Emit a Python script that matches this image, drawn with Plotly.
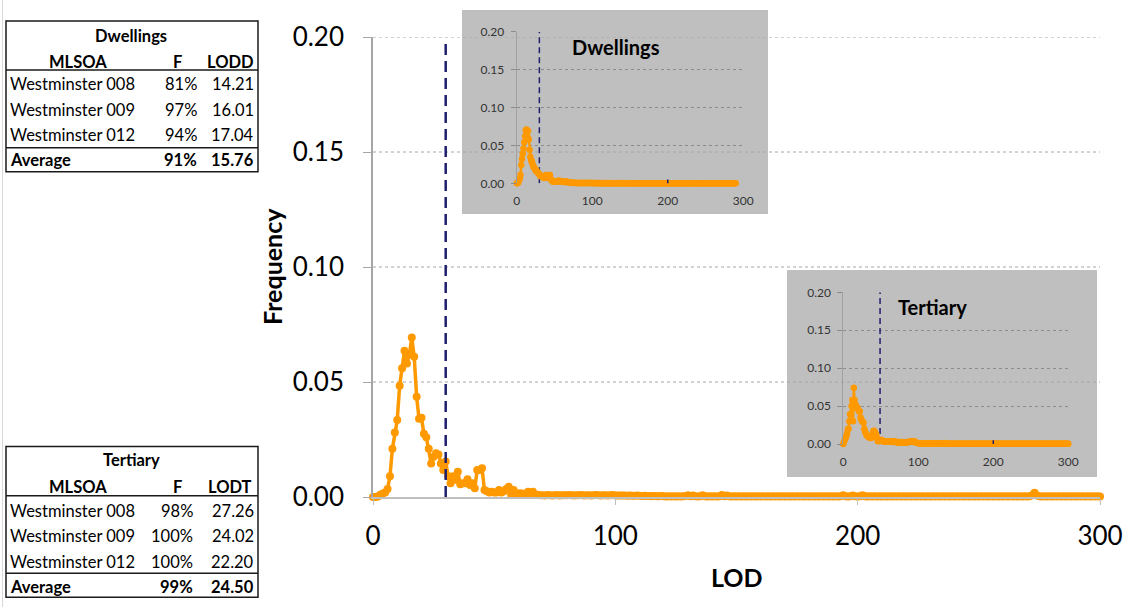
import plotly.graph_objects as go

W, H = 1134, 607
FONT = "Lato"
ORANGE = "#FF9900"
NAVY = "#1F1F6E"

# ---- frequency of LOD values (index = LOD, 0..300) ----
main_freq = [
    0.0000, 0.0000, 0.0002, 0.0010, 0.0015, 0.0020, 0.0035, 0.0090, 0.0210, 0.0280,
    0.0335, 0.0484, 0.0560, 0.0636, 0.0580, 0.0620, 0.0694, 0.0610, 0.0436, 0.0340,
    0.0345, 0.0275, 0.0260, 0.0210, 0.0146, 0.0175, 0.0190, 0.0185, 0.0146, 0.0117,
    0.0154, 0.0090, 0.0060, 0.0090, 0.0075, 0.0110, 0.0055, 0.0060, 0.0060, 0.0077,
    0.0052, 0.0060, 0.0038, 0.0117, 0.0117, 0.0125, 0.0030, 0.0025, 0.0020, 0.0023,
    0.0020, 0.0020, 0.0030, 0.0020, 0.0025, 0.0035, 0.0045, 0.0010, 0.0030, 0.0015,
    0.0015, 0.0016, 0.0010, 0.0015, 0.0023, 0.0015, 0.0023, 0.0010, 0.0010, 0.0008,
    0.0008, 0.0007, 0.0009, 0.0008, 0.0007, 0.0008, 0.0009, 0.0007, 0.0008, 0.0008,
    0.0008, 0.0009, 0.0008, 0.0007, 0.0008, 0.0008, 0.0009, 0.0007, 0.0008, 0.0008,
    0.0007, 0.0008, 0.0009, 0.0008, 0.0007, 0.0008, 0.0008, 0.0007, 0.0008, 0.0009,
    0.0007, 0.0006, 0.0007, 0.0006, 0.0006, 0.0005, 0.0006, 0.0005, 0.0005, 0.0006,
    0.0005, 0.0004, 0.0005, 0.0004, 0.0004, 0.0003, 0.0004, 0.0003, 0.0003, 0.0004,
    0.0003, 0.0002, 0.0003, 0.0002, 0.0003, 0.0002, 0.0003, 0.0002, 0.0003, 0.0004,
    0.0008, 0.0003, 0.0007, 0.0003, 0.0002, 0.0003, 0.0008, 0.0003, 0.0002, 0.0003,
    0.0002, 0.0003, 0.0002, 0.0003, 0.0009, 0.0003, 0.0007, 0.0003, 0.0002, 0.0003,
    0.0002, 0.0003, 0.0002, 0.0003, 0.0002, 0.0003, 0.0002, 0.0003, 0.0002, 0.0003,
    0.0002, 0.0003, 0.0002, 0.0003, 0.0002, 0.0003, 0.0002, 0.0003, 0.0002, 0.0003,
    0.0002, 0.0003, 0.0002, 0.0003, 0.0002, 0.0003, 0.0002, 0.0003, 0.0002, 0.0003,
    0.0002, 0.0003, 0.0002, 0.0003, 0.0002, 0.0003, 0.0002, 0.0003, 0.0002, 0.0003,
    0.0002, 0.0003, 0.0002, 0.0003, 0.0008, 0.0003, 0.0002, 0.0003, 0.0007, 0.0003,
    0.0002, 0.0003, 0.0008, 0.0003, 0.0002, 0.0003, 0.0002, 0.0003, 0.0002, 0.0003,
    0.0002, 0.0003, 0.0002, 0.0003, 0.0002, 0.0003, 0.0002, 0.0003, 0.0002, 0.0003,
    0.0002, 0.0003, 0.0002, 0.0003, 0.0002, 0.0003, 0.0002, 0.0003, 0.0002, 0.0003,
    0.0002, 0.0003, 0.0002, 0.0003, 0.0002, 0.0003, 0.0002, 0.0003, 0.0002, 0.0003,
    0.0002, 0.0003, 0.0002, 0.0003, 0.0002, 0.0003, 0.0002, 0.0003, 0.0002, 0.0003,
    0.0002, 0.0003, 0.0002, 0.0003, 0.0002, 0.0003, 0.0002, 0.0003, 0.0002, 0.0003,
    0.0002, 0.0003, 0.0002, 0.0003, 0.0002, 0.0003, 0.0002, 0.0003, 0.0002, 0.0003,
    0.0002, 0.0003, 0.0008, 0.0018, 0.0006, 0.0003, 0.0002, 0.0003, 0.0002, 0.0003,
    0.0002, 0.0003, 0.0002, 0.0003, 0.0002, 0.0003, 0.0002, 0.0003, 0.0002, 0.0003,
    0.0002, 0.0003, 0.0002, 0.0003, 0.0002, 0.0003, 0.0002, 0.0003, 0.0002, 0.0003,
    0.0002,
]

dwell_freq = [
    0.0000, 0.0000, 0.0010, 0.0044, 0.0060, 0.0110, 0.0240, 0.0320, 0.0390, 0.0460,
    0.0540, 0.0620, 0.0700, 0.0710, 0.0620, 0.0690, 0.0580, 0.0440, 0.0350, 0.0300,
    0.0290, 0.0250, 0.0220, 0.0210, 0.0190, 0.0170, 0.0176, 0.0150, 0.0140, 0.0130,
    0.0120, 0.0100, 0.0090, 0.0095, 0.0088, 0.0088, 0.0070, 0.0090, 0.0100, 0.0110,
    0.0080, 0.0070, 0.0090, 0.0110, 0.0110, 0.0060, 0.0040, 0.0030, 0.0020, 0.0020,
    0.0020, 0.0025, 0.0020, 0.0030, 0.0025, 0.0030, 0.0035, 0.0035, 0.0025, 0.0020,
    0.0020, 0.0025, 0.0020, 0.0015, 0.0020, 0.0025, 0.0020, 0.0020, 0.0015, 0.0010,
    0.0008, 0.0007, 0.0008, 0.0006, 0.0007, 0.0006, 0.0005, 0.0006, 0.0005, 0.0005,
    0.0005, 0.0004, 0.0005, 0.0004, 0.0005, 0.0004, 0.0004, 0.0005, 0.0004, 0.0004,
    0.0004, 0.0003, 0.0004, 0.0003, 0.0004, 0.0003, 0.0003, 0.0004, 0.0003, 0.0003,
    0.0003, 0.0003, 0.0002, 0.0003, 0.0003, 0.0002, 0.0003, 0.0002, 0.0003, 0.0002,
    0.0002, 0.0003, 0.0002, 0.0002, 0.0003, 0.0002, 0.0002, 0.0003, 0.0002, 0.0002,
    0.0002, 0.0002, 0.0003, 0.0002, 0.0002, 0.0002, 0.0003, 0.0002, 0.0002, 0.0002,
    0.0002, 0.0002, 0.0002, 0.0003, 0.0002, 0.0002, 0.0002, 0.0002, 0.0003, 0.0002,
    0.0002, 0.0002, 0.0002, 0.0002, 0.0002, 0.0003, 0.0002, 0.0002, 0.0002, 0.0002,
    0.0002, 0.0002, 0.0002, 0.0002, 0.0002, 0.0002, 0.0002, 0.0002, 0.0002, 0.0002,
    0.0002, 0.0002, 0.0002, 0.0002, 0.0002, 0.0002, 0.0002, 0.0002, 0.0002, 0.0002,
    0.0002, 0.0002, 0.0002, 0.0002, 0.0002, 0.0002, 0.0002, 0.0002, 0.0002, 0.0002,
    0.0002, 0.0002, 0.0002, 0.0002, 0.0002, 0.0002, 0.0002, 0.0002, 0.0002, 0.0002,
    0.0002, 0.0002, 0.0002, 0.0002, 0.0002, 0.0002, 0.0002, 0.0002, 0.0002, 0.0002,
    0.0002, 0.0002, 0.0002, 0.0002, 0.0002, 0.0002, 0.0002, 0.0002, 0.0002, 0.0002,
    0.0002, 0.0002, 0.0002, 0.0002, 0.0002, 0.0002, 0.0002, 0.0002, 0.0002, 0.0002,
    0.0002, 0.0002, 0.0002, 0.0002, 0.0002, 0.0002, 0.0002, 0.0002, 0.0002, 0.0002,
    0.0002, 0.0002, 0.0002, 0.0002, 0.0002, 0.0002, 0.0002, 0.0002, 0.0002, 0.0002,
    0.0002, 0.0002, 0.0002, 0.0002, 0.0002, 0.0002, 0.0002, 0.0002, 0.0002, 0.0002,
    0.0002, 0.0002, 0.0002, 0.0002, 0.0002, 0.0002, 0.0002, 0.0002, 0.0002, 0.0002,
    0.0002, 0.0002, 0.0002, 0.0002, 0.0002, 0.0002, 0.0002, 0.0002, 0.0002, 0.0002,
    0.0002, 0.0002, 0.0002, 0.0002, 0.0002, 0.0002, 0.0002, 0.0002, 0.0002, 0.0002,
    0.0002, 0.0002, 0.0002, 0.0002, 0.0002, 0.0002, 0.0002, 0.0002, 0.0002, 0.0002,
    0.0002,
]

tert_freq = [
    0.0000, 0.0030, 0.0057, 0.0080, 0.0100, 0.0140, 0.0190, 0.0200, 0.0300, 0.0390,
    0.0400, 0.0500, 0.0580, 0.0300, 0.0740, 0.0580, 0.0520, 0.0500, 0.0480, 0.0475,
    0.0450, 0.0430, 0.0430, 0.0350, 0.0320, 0.0300, 0.0290, 0.0280, 0.0200, 0.0167,
    0.0140, 0.0120, 0.0110, 0.0100, 0.0090, 0.0090, 0.0080, 0.0080, 0.0100, 0.0130,
    0.0170, 0.0175, 0.0160, 0.0140, 0.0123, 0.0080, 0.0035, 0.0040, 0.0050, 0.0040,
    0.0050, 0.0057, 0.0040, 0.0035, 0.0030, 0.0035, 0.0030, 0.0035, 0.0030, 0.0030,
    0.0035, 0.0030, 0.0030, 0.0035, 0.0030, 0.0025, 0.0030, 0.0025, 0.0035, 0.0035,
    0.0025, 0.0020, 0.0025, 0.0020, 0.0020, 0.0025, 0.0020, 0.0020, 0.0025, 0.0020,
    0.0020, 0.0020, 0.0015, 0.0020, 0.0020, 0.0025, 0.0020, 0.0025, 0.0030, 0.0030,
    0.0030, 0.0035, 0.0035, 0.0035, 0.0040, 0.0030, 0.0020, 0.0015, 0.0015, 0.0012,
    0.0010, 0.0010, 0.0009, 0.0010, 0.0008, 0.0009, 0.0008, 0.0008, 0.0007, 0.0008,
    0.0007, 0.0007, 0.0006, 0.0007, 0.0006, 0.0006, 0.0005, 0.0006, 0.0005, 0.0005,
    0.0005, 0.0005, 0.0004, 0.0005, 0.0004, 0.0005, 0.0004, 0.0004, 0.0005, 0.0004,
    0.0004, 0.0005, 0.0006, 0.0008, 0.0010, 0.0013, 0.0010, 0.0006, 0.0004, 0.0004,
    0.0003, 0.0004, 0.0003, 0.0003, 0.0004, 0.0003, 0.0003, 0.0003, 0.0003, 0.0003,
    0.0003, 0.0003, 0.0003, 0.0003, 0.0003, 0.0003, 0.0003, 0.0003, 0.0003, 0.0003,
    0.0002, 0.0003, 0.0002, 0.0003, 0.0002, 0.0003, 0.0002, 0.0003, 0.0002, 0.0003,
    0.0002, 0.0003, 0.0002, 0.0003, 0.0002, 0.0003, 0.0002, 0.0003, 0.0002, 0.0003,
    0.0002, 0.0002, 0.0002, 0.0002, 0.0002, 0.0002, 0.0002, 0.0002, 0.0002, 0.0002,
    0.0002, 0.0002, 0.0002, 0.0002, 0.0002, 0.0002, 0.0002, 0.0002, 0.0002, 0.0002,
    0.0002, 0.0002, 0.0002, 0.0002, 0.0002, 0.0002, 0.0002, 0.0002, 0.0002, 0.0002,
    0.0002, 0.0002, 0.0002, 0.0002, 0.0002, 0.0002, 0.0002, 0.0002, 0.0002, 0.0002,
    0.0002, 0.0002, 0.0002, 0.0002, 0.0002, 0.0002, 0.0002, 0.0002, 0.0002, 0.0002,
    0.0002, 0.0002, 0.0002, 0.0002, 0.0002, 0.0002, 0.0002, 0.0002, 0.0002, 0.0002,
    0.0002, 0.0002, 0.0002, 0.0002, 0.0002, 0.0002, 0.0002, 0.0002, 0.0002, 0.0002,
    0.0002, 0.0002, 0.0002, 0.0002, 0.0002, 0.0002, 0.0002, 0.0002, 0.0002, 0.0002,
    0.0002, 0.0002, 0.0002, 0.0002, 0.0002, 0.0002, 0.0002, 0.0002, 0.0002, 0.0002,
    0.0002, 0.0002, 0.0002, 0.0002, 0.0002, 0.0002, 0.0002, 0.0002, 0.0002, 0.0002,
    0.0002, 0.0002, 0.0002, 0.0002, 0.0002, 0.0002, 0.0002, 0.0002, 0.0002, 0.0002,
    0.0002, 0.0002, 0.0002, 0.0002, 0.0002, 0.0002, 0.0002, 0.0002, 0.0002, 0.0002,
    0.0002,
]

# cut-off LOD values shown as dashed verticals
main_cut = 30
dwell_cut = 30
tert_cut = 49
mark_lod = 200

y_ticks = [0.00, 0.05, 0.10, 0.15, 0.20]
y_tick_text = ["0.00", "0.05", "0.10", "0.15", "0.20"]
x_ticks = [0, 100, 200, 300]
x_tick_text = ["0", "100", "200", "300"]

dwell_table = {
    "title": "Dwellings",
    "cols": ["MLSOA", "F", "LODD"],
    "rows": [("Westminster 008", "81%", "14.21"),
             ("Westminster 009", "97%", "16.01"),
             ("Westminster 012", "94%", "17.04")],
    "avg": ("Average", "91%", "15.76"),
}
tert_table = {
    "title": "Tertiary",
    "cols": ["MLSOA", "F", "LODT"],
    "rows": [("Westminster 008", "98%", "27.26"),
             ("Westminster 009", "100%", "24.02"),
             ("Westminster 012", "100%", "22.20")],
    "avg": ("Average", "99%", "24.50"),
}


def px(x):
    return x / W


def py(y):
    return 1 - y / H


lod_main = list(range(len(main_freq)))
lod_dwell = list(range(len(dwell_freq)))
lod_tert = list(range(len(tert_freq)))

fig = go.Figure()

# main curve
fig.add_trace(go.Scatter(
    x=lod_main, y=main_freq, mode="lines+markers", xaxis="x", yaxis="y",
    line=dict(color=ORANGE, width=3.5), marker=dict(color=ORANGE, size=8),
    cliponaxis=False, hoverinfo="skip"))
fig.add_trace(go.Scatter(
    x=[main_cut, main_cut], y=[0, 0.197], mode="lines", xaxis="x", yaxis="y",
    line=dict(color=NAVY, width=2.5, dash="11px,6px"), hoverinfo="skip"))

# inset curves
for xa, ya, lod, freq, cut in [("x2", "y2", lod_dwell, dwell_freq, dwell_cut),
                               ("x3", "y3", lod_tert, tert_freq, tert_cut)]:
    fig.add_trace(go.Scatter(
        x=[cut, cut], y=[0, 0.2], mode="lines", xaxis=xa, yaxis=ya,
        line=dict(color=NAVY, width=1.5, dash="6px,4px"), hoverinfo="skip"))
    fig.add_trace(go.Scatter(
        x=lod, y=freq, mode="lines+markers", xaxis=xa, yaxis=ya,
        line=dict(color=ORANGE, width=2.5), marker=dict(color=ORANGE, size=6.5),
        cliponaxis=False, hoverinfo="skip"))
    fig.add_trace(go.Scatter(
        x=[mark_lod, mark_lod], y=[-0.003, 0.005], mode="lines", xaxis=xa, yaxis=ya,
        line=dict(color=NAVY, width=1.5), cliponaxis=False, hoverinfo="skip"))

shapes = []
# main gridlines (drawn under the inset panels)
for v in y_ticks[1:]:
    shapes.append(dict(type="line", xref="x", yref="y", x0=0, x1=300, y0=v, y1=v,
                       line=dict(color="#A6A6A6", width=1, dash="3px,3px"),
                       layer="below"))
# inset panels
shapes.append(dict(type="rect", xref="paper", yref="paper",
                   x0=px(462), x1=px(768), y0=py(214), y1=py(10),
                   fillcolor="#BFBFBF", line=dict(width=0), layer="below"))
shapes.append(dict(type="rect", xref="paper", yref="paper",
                   x0=px(787), x1=px(1097), y0=py(477), y1=py(270),
                   fillcolor="#BFBFBF", line=dict(width=0), layer="below"))

annotations = []


def add_text(x, y, text, anchor="center", size=16.5, bold=False, color="black", angle=0):
    annotations.append(dict(
        xref="paper", yref="paper", x=px(x), y=py(y), text=f"<b>{text}</b>" if bold else text,
        showarrow=False, xanchor=anchor, yanchor="middle", textangle=angle,
        font=dict(family=FONT, size=size, color=color)))


def add_table(tbl, top, rows_y, avg_y, head_y, title_y, line1, line2, bottom, f_right):
    left, right = 6, 258
    shapes.append(dict(type="rect", xref="paper", yref="paper",
                       x0=px(left), x1=px(right), y0=py(bottom), y1=py(top),
                       line=dict(color="#1A1A1A", width=1.5)))
    for ly in (line1, line2):
        shapes.append(dict(type="line", xref="paper", yref="paper",
                           x0=px(left), x1=px(right), y0=py(ly), y1=py(ly),
                           line=dict(color="#1A1A1A", width=1.5)))
    add_text(131, title_y, tbl["title"], bold=True)
    add_text(78, head_y, tbl["cols"][0], bold=True)
    add_text(177, head_y, tbl["cols"][1], bold=True)
    add_text(230, head_y, tbl["cols"][2], bold=True)
    for (name, f, v), ry in zip(tbl["rows"], rows_y):
        add_text(8, ry, name, anchor="left")
        add_text(f_right, ry, f, anchor="right")
        add_text(256, ry, v, anchor="right")
    name, f, v = tbl["avg"]
    add_text(8, avg_y, name, anchor="left", bold=True)
    add_text(f_right, avg_y, f, anchor="right", bold=True)
    add_text(256, avg_y, v, anchor="right", bold=True)


add_table(dwell_table, top=21, rows_y=[84.5, 109.5, 135], avg_y=160, head_y=61.5,
          title_y=35.5, line1=70, line2=147.7, bottom=171.7, f_right=199)
add_table(tert_table, top=446.5, rows_y=[511, 535.7, 561.7], avg_y=586.7, head_y=487.3,
          title_y=460, line1=495.7, line2=573.3, bottom=597.3, f_right=195)

# faint page edge on the left
shapes.append(dict(type="line", xref="paper", yref="paper", x0=px(2.5), x1=px(2.5),
                   y0=0, y1=1, line=dict(color="#D9D9D9", width=1)))

# axis titles and inset titles
add_text(272, 267, "Frequency", size=25, bold=True, angle=-90)
add_text(737, 577, "LOD", size=25, bold=True)
add_text(616, 46.5, "Dwellings", size=20, bold=True)
add_text(932, 307.3, "Tertiary", size=20, bold=True)

main_x = dict(domain=[px(373), px(1100)], range=[0, 300], anchor="y", automargin=False,
              tickvals=x_ticks, ticktext=x_tick_text, showgrid=False, zeroline=False,
              showline=True, linecolor="#BFBFBF", linewidth=2,
              ticks="outside", ticklen=6, tickcolor="#BFBFBF", tickwidth=1,
              ticklabelstandoff=9, tickfont=dict(family=FONT, size=26, color="black"))
main_y = dict(domain=[py(497), py(37)], range=[0, 0.2], anchor="x", automargin=False,
              tickvals=y_ticks, ticktext=y_tick_text, showgrid=False, zeroline=False,
              showline=True, linecolor="#A6A6A6", linewidth=1.5,
              ticks="outside", ticklen=8, tickcolor="#A6A6A6", tickwidth=1,
              ticklabelstandoff=14, tickfont=dict(family=FONT, size=26, color="black"))


def inset_axes(x0, x1, y0, y1, xa, ya):
    xd = dict(domain=[px(x0), px(x1)], range=[0, 300], anchor=ya, automargin=False,
              tickvals=x_ticks, ticktext=x_tick_text, showgrid=False, zeroline=False,
              showline=False, ticks="", ticklabelstandoff=9,
              tickfont=dict(family=FONT, size=12, color="#333333"))
    yd = dict(domain=[py(y0), py(y1)], range=[0, 0.2], anchor=xa, automargin=False,
              tickvals=y_ticks, ticktext=y_tick_text, zeroline=False,
              showgrid=True, gridcolor="#8C8C8C", gridwidth=1, griddash="3px,3px",
              showline=True, linecolor="#A0A0A0", linewidth=1,
              ticks="outside", ticklen=5, tickcolor="#8C8C8C", ticklabelstandoff=4,
              tickfont=dict(family=FONT, size=12, color="#333333"))
    return xd, yd


x2, y2 = inset_axes(516.7, 743.3, 183.3, 31.7, "x2", "y2")
x3, y3 = inset_axes(843.3, 1068.3, 444, 292.3, "x3", "y3")

fig.update_layout(
    width=W, height=H, margin=dict(l=0, r=0, t=0, b=0, pad=0), autosize=False,
    paper_bgcolor="white", plot_bgcolor="rgba(0,0,0,0)",
    showlegend=False,
    xaxis=main_x, yaxis=main_y,
    xaxis2=x2, yaxis2=y2, xaxis3=x3, yaxis3=y3,
    shapes=shapes, annotations=annotations,
)

fig.write_html("out.html")
